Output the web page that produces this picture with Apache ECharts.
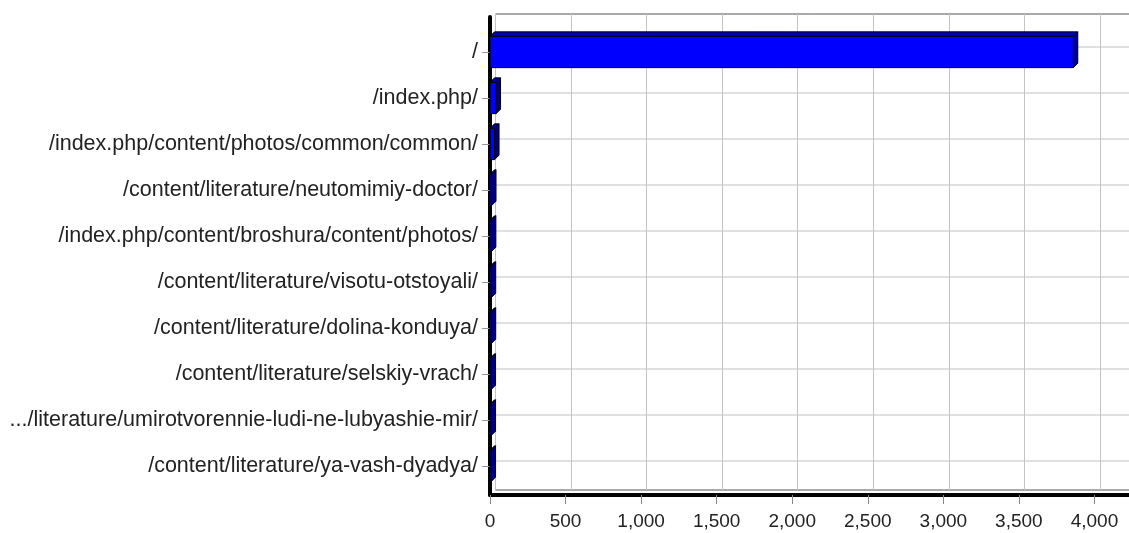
<!DOCTYPE html>
<html>
<head>
<meta charset="utf-8">
<script src="https://cdn.jsdelivr.net/npm/echarts@6/dist/echarts.min.js"></script>
<style>
html,body{margin:0;padding:0;background:#fff;}
#c{width:1129px;height:533px;}
</style>
</head>
<body>
<div id="c"></div>
<script>
const categories = [
  '/',
  '/index.php/',
  '/index.php/content/photos/common/common/',
  '/content/literature/neutomimiy-doctor/',
  '/index.php/content/broshura/content/photos/',
  '/content/literature/visotu-otstoyali/',
  '/content/literature/dolina-konduya/',
  '/content/literature/selskiy-vrach/',
  '.../literature/umirotvorennie-ludi-ne-lubyashie-mir/',
  '/content/literature/ya-vash-dyadya/'
];
const hits = [3860, 40, 30, 10, 9, 8, 8, 7, 7, 7];
const xMin = 0, xMax = 4500, xStep = 500;

const FONT = 'Liberation Sans, Arial, sans-serif';
const DEPTH = 4.5;

function renderBar(params, api) {
  const v = api.value(0), c = api.value(1);
  const p0 = api.coord([0, c]);
  const p1 = api.coord([v, c]);
  const band = api.size([0, 1])[1];
  const h = band * 0.68;
  const top = p0[1] - h / 2, bot = p0[1] + h / 2;
  const x0 = p0[0], x1 = Math.max(p1[0], x0 + 1);
  const d = DEPTH;
  return {
    type: 'group',
    children: [
      {type: 'polygon', shape: {points: [[x0, top], [x0 + d, top - d], [x1 + d, top - d], [x1, top]]},
        style: {fill: '#0000b8', stroke: '#000', lineWidth: 1}},
      {type: 'polygon', shape: {points: [[x1, top], [x1 + d, top - d], [x1 + d, bot - d], [x1, bot]]},
        style: {fill: '#00007c', stroke: '#000', lineWidth: 1}},
      {type: 'rect', shape: {x: x0, y: top, width: x1 - x0, height: h},
        style: {fill: '#0000ff', stroke: '#000', lineWidth: 1}}
    ]
  };
}

const chart = echarts.init(document.getElementById('c'), null, {renderer: 'canvas'});
const W = 680;
chart.setOption({
  animation: false,
  backgroundColor: '#fff',
  textStyle: {fontFamily: FONT},
  grid: [
    {left: 495.5, top: 14, width: W, height: 476, show: true, borderColor: '#555', borderWidth: 1, backgroundColor: 'transparent', outerBoundsMode: 'none', containLabel: false},
    {left: 495.5, top: 24, width: W, height: 460, outerBoundsMode: 'none', containLabel: false},
    {left: 490, top: 17, width: W, height: 478, outerBoundsMode: 'none', containLabel: false},
    {left: 490, top: 29, width: W, height: 460, outerBoundsMode: 'none', containLabel: false}
  ],
  xAxis: [
    {gridIndex: 0, type: 'value', min: xMin, max: xMax, interval: xStep,
      axisLine: {show: false}, axisTick: {show: false}, axisLabel: {show: false},
      splitLine: {show: true, lineStyle: {color: '#c4c4c4', width: 1}}},
    {gridIndex: 1, type: 'value', min: xMin, max: xMax, interval: xStep, show: false},
    {gridIndex: 2, type: 'value', min: xMin, max: xMax, interval: xStep,
      axisLine: {show: true, lineStyle: {color: '#000', width: 4}},
      axisTick: {show: true, length: 9, lineStyle: {color: '#888'}},
      axisLabel: {show: true, margin: 17, fontSize: 19, color: '#222', fontFamily: FONT, showMaxLabel: false},
      splitLine: {show: false}},
    {gridIndex: 3, type: 'value', min: xMin, max: xMax, interval: xStep, show: false}
  ],
  yAxis: [
    {gridIndex: 0, type: 'value', min: 0, max: 1, show: false},
    {gridIndex: 1, type: 'category', inverse: true, data: categories,
      axisLine: {show: false}, axisTick: {show: false}, axisLabel: {show: false},
      splitLine: {show: true, alignWithLabel: true, lineStyle: {color: '#d6d6d6', width: 1.5}}},
    {gridIndex: 2, type: 'value', min: 0, max: 1,
      axisLine: {show: true, lineStyle: {color: '#000', width: 4}},
      axisTick: {show: false}, axisLabel: {show: false}, splitLine: {show: false}},
    {gridIndex: 3, type: 'category', inverse: true, data: categories,
      axisLine: {show: false},
      axisTick: {show: true, alignWithLabel: true, length: 8, lineStyle: {color: '#999'}},
      axisLabel: {show: true, margin: 12, fontSize: 21.5, color: '#222', fontFamily: FONT},
      splitLine: {show: false}}
  ],
  series: [{
    type: 'custom',
    xAxisIndex: 3,
    yAxisIndex: 3,
    renderItem: renderBar,
    encode: {x: 0, y: 1},
    data: hits.map((v, i) => [v, i]),
    z: 10,
    clip: false
  }]
});
</script>
</body>
</html>
